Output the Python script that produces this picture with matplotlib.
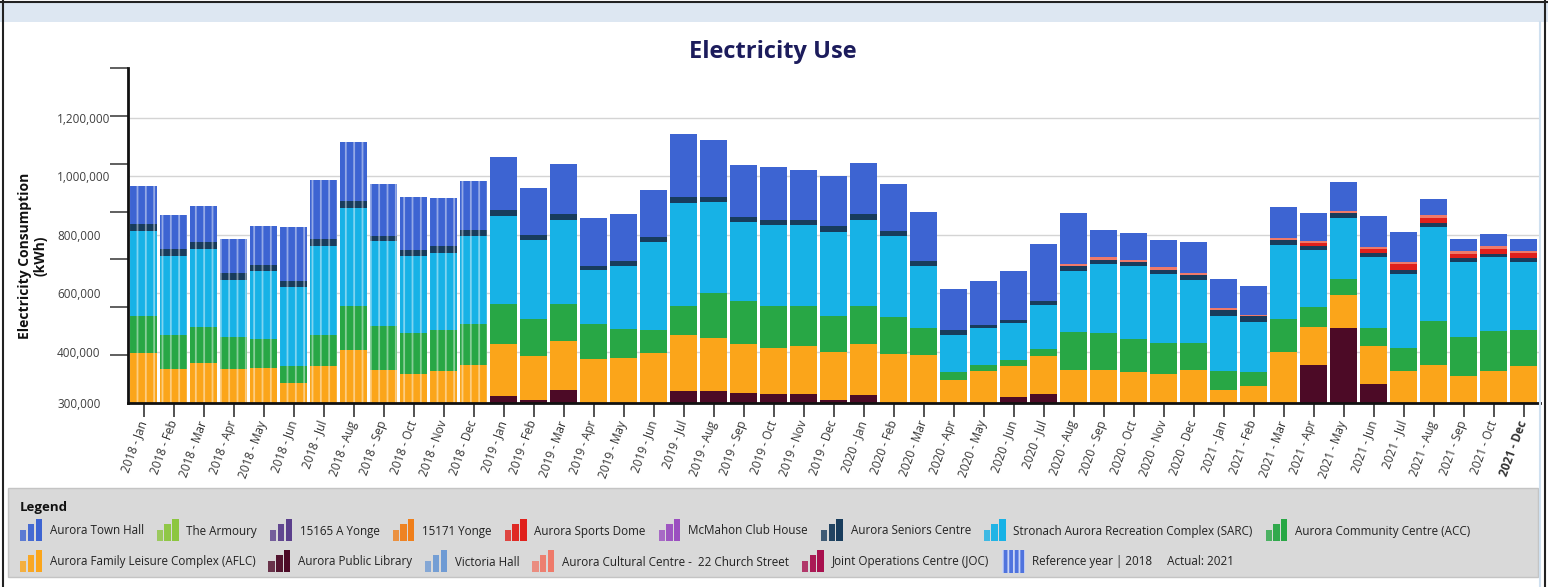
import numpy as np
import matplotlib
matplotlib.use("Agg")
import matplotlib.pyplot as plt
from matplotlib.patches import Patch, Rectangle
from matplotlib.lines import Line2D
from matplotlib.legend_handler import HandlerBase

plt.rcParams['font.family'] = ['Open Sans', 'DejaVu Sans']
plt.rcParams['hatch.linewidth'] = 1.3

# --- categories (the last bar is labelled "2021 - Dec" in the source) ---
mon = ['Jan', 'Feb', 'Mar', 'Apr', 'May', 'Jun', 'Jul', 'Aug', 'Sep', 'Oct', 'Nov', 'Dec']
month_labels = ([f"{y} - {m}" for y in (2018, 2019, 2020) for m in mon]
                + [f"2021 - {m}" for m in mon[:10]] + ["2021 - Dec"])
ref_year = "2018"

# --- stacked values, thousand kWh above the axis base (bottom -> top) ---
library = [0, 0, 0, 0, 0, 0, 0, 0, 0, 0, 0, 0,
           25, 11, 43, 0, 0, 0, 40, 42, 34, 32, 32, 11,
           26, 0, 0, 0, 0, 19, 32, 0, 0, 0, 0, 0,
           0, 0, 0, 129, 256, 65, 0, 0, 0, 0, 0]
aflc = [171, 116, 137, 116, 120, 70, 125, 182, 114, 100, 111, 131,
        177, 151, 168, 151, 154, 171, 194, 180, 168, 156, 164, 163,
        176, 169, 165, 80, 111, 106, 130, 114, 114, 105, 100, 114,
        43, 57, 176, 130, 114, 129, 111, 131, 93, 108, 125]
acc = [128, 117, 122, 109, 100, 58, 108, 148, 148, 139, 139, 140,
       135, 125, 128, 119, 100, 80, 97, 154, 148, 142, 134, 122,
       131, 125, 91, 25, 19, 21, 23, 129, 125, 114, 105, 91,
       68, 48, 112, 68, 55, 63, 77, 148, 134, 137, 125]
sarc = [288, 270, 268, 194, 230, 270, 305, 338, 291, 265, 262, 301,
        302, 270, 286, 183, 213, 298, 354, 310, 268, 278, 279, 287,
        294, 276, 213, 129, 125, 128, 149, 207, 237, 248, 237, 216,
        187, 172, 251, 195, 208, 243, 254, 323, 256, 254, 232]
seniors = [25, 23, 23, 25, 21, 19, 22, 21, 19, 19, 23, 21,
           19, 17, 22, 16, 17, 18, 19, 17, 18, 16, 15, 21,
           19, 17, 15, 17, 11, 11, 16, 17, 14, 14, 14, 17,
           21, 19, 19, 14, 15, 14, 14, 14, 12, 11, 14]
sports_dome = [0] * 39 + [12, 0, 14, 19, 17, 15, 16, 17]
cultural = [0] * 31 + [8, 9, 9, 9, 6, 6, 6, 6, 6, 8, 6, 7, 8, 8, 9, 6]
town_hall = [131, 117, 125, 116, 133, 186, 203, 203, 178, 180, 165, 165,
             182, 160, 171, 163, 162, 162, 214, 197, 176, 181, 171, 171,
             174, 160, 168, 139, 150, 165, 195, 174, 93, 91, 91, 105,
             99, 99, 105, 94, 99, 106, 103, 57, 43, 42, 43]

Y_BASE = 225000
Y_TOP = 1370000

colors = {
    'Aurora Town Hall': '#3d64d2',
    'The Armoury': '#8cc63f',
    '15165 A Yonge': '#5b3f8c',
    '15171 Yonge': '#f07f1a',
    'Aurora Sports Dome': '#e0201b',
    'McMahon Club House': '#9b4fc0',
    'Aurora Seniors Centre': '#183c5c',
    'Stronach Aurora Recreation Complex (SARC)': '#17b2e6',
    'Aurora Community Centre (ACC)': '#28a745',
    'Aurora Family Leisure Complex (AFLC)': '#fba51a',
    'Aurora Public Library': '#4c0a26',
    'Victoria Hall': '#6f9bd4',
    'Aurora Cultural Centre -  22 Church Street': '#ef7a6a',
    'Joint Operations Centre (JOC)': '#a8104e',
}

stack = [
    ('Aurora Public Library', library),
    ('Aurora Family Leisure Complex (AFLC)', aflc),
    ('Aurora Community Centre (ACC)', acc),
    ('Stronach Aurora Recreation Complex (SARC)', sarc),
    ('Aurora Seniors Centre', seniors),
    ('Aurora Sports Dome', sports_dome),
    ('Aurora Cultural Centre -  22 Church Street', cultural),
    ('Aurora Town Hall', town_hall),
]

W, H = 1548, 587
fig = plt.figure(figsize=(W / 100, H / 100), dpi=100)

# page furniture: top band, frame, legend panel
fig.patches.append(Rectangle((0, 1 - 22 / H), 1, 20 / H, transform=fig.transFigure,
                             facecolor='#dde7f2', edgecolor='none', zorder=0))
fig.patches.append(Rectangle((8 / W, 10 / H), 1530 / W, 89 / H, transform=fig.transFigure,
                             facecolor='#d9d9d9', edgecolor='#c4c4c4', lw=1, zorder=0))
fig.lines.append(Line2D([0, 1], [1 - 1.5 / H] * 2, transform=fig.transFigure, color='#222', lw=1.5))
fig.lines.append(Line2D([3 / W] * 2, [0, 1], transform=fig.transFigure, color='#222', lw=1.5))
fig.lines.append(Line2D([1 - 3 / W] * 2, [0, 1], transform=fig.transFigure, color='#222', lw=1.5))
fig.lines.append(Line2D([1540 / W] * 2, [0, 1 - 22 / H], transform=fig.transFigure, color='#cfe0f0', lw=1.5))

ax = fig.add_axes([128 / W, 184 / H, 1412 / W, 335 / H])

x = np.arange(len(month_labels))
is_ref = np.array([lab.startswith(ref_year) for lab in month_labels])
bottom = np.full(len(x), float(Y_BASE))
for name, vals in stack:
    v = np.array(vals, dtype=float) * 1000
    bars = ax.bar(x, v, 0.9, bottom=bottom, color=colors[name], linewidth=0, zorder=2)
    for b, r in zip(bars, is_ref):
        if r:
            b.set_hatch('||')
            b.set_edgecolor((1, 1, 1, 0.45))
    bottom += v

ax.set_xlim(-0.52, 46.55)
ax.set_ylim(Y_BASE, Y_TOP)

for s in ('top', 'right'):
    ax.spines[s].set_visible(False)
for s in ('left', 'bottom'):
    ax.spines[s].set_linewidth(2)
    ax.spines[s].set_color('#111')

ax.set_xticks(x)
ax.set_xticklabels(month_labels, rotation=70, ha='right', va='center',
                   rotation_mode='anchor', fontsize=8.5, color='#333')
ax.get_xticklabels()[-1].set_fontweight('bold')
ax.tick_params(axis='x', length=10, width=1.2, color='#333', pad=3)

ylabels_vals = [Y_BASE, 400000, 600000, 800000, 1000000, 1200000]
ax.set_yticks(ylabels_vals, ['300,000', '400,000', '600,000', '800,000', '1,000,000', '1,200,000'])
ax.set_yticks(np.linspace(Y_BASE, Y_TOP, 8), minor=True)
ax.tick_params(axis='y', which='major', length=0, pad=51, labelsize=8.5, labelcolor='#404040')
ax.tick_params(axis='y', which='minor', length=13, width=1.2, color='#444')
for t in ax.get_yticklabels():
    t.set_horizontalalignment('left')
ax.grid(axis='y', which='major', color='#d4d4d4', lw=1, zorder=0)
ax.set_axisbelow(True)

ax.set_ylabel('Electricity Consumption\n(kWh)', fontsize=10, fontweight='bold', color='#111',
              linespacing=1.1)
ax.yaxis.set_label_coords(-0.057, 0.44)

fig.text(773 / W, 1 - 52 / H, 'Electricity Use', ha='center', va='center',
         fontsize=17, fontweight='bold', color='#1c1c5c')


class MiniBars(HandlerBase):
    def create_artists(self, legend, orig_handle, xdescent, ydescent, width, height, fontsize, trans):
        fc = orig_handle.get_facecolor()
        full = 2.7 * height
        y0 = -ydescent + 0.5 * height - 0.5 * full
        if orig_handle.get_hatch():
            r = Rectangle((-xdescent, y0 - 0.1 * height), width, full + 0.2 * height,
                          facecolor=fc, edgecolor=(1, 1, 1, 0.7), hatch='|||',
                          linewidth=0, transform=trans)
            return [r]
        arts = []
        bw = width / 3 - 1
        for k, (frac, a) in enumerate(((0.5, 0.8), (0.78, 0.95), (1.0, 1.0))):
            arts.append(Rectangle((-xdescent + k * width / 3, y0), bw, full * frac,
                                  facecolor=fc, alpha=a, linewidth=0, transform=trans))
        return arts


row1 = ['Aurora Town Hall', 'The Armoury', '15165 A Yonge', '15171 Yonge', 'Aurora Sports Dome',
        'McMahon Club House', 'Aurora Seniors Centre', 'Stronach Aurora Recreation Complex (SARC)',
        'Aurora Community Centre (ACC)']
row2 = ['Aurora Family Leisure Complex (AFLC)', 'Aurora Public Library', 'Victoria Hall',
        'Aurora Cultural Centre -  22 Church Street', 'Joint Operations Centre (JOC)']

fig.text(20 / W, 1 - 507 / H, 'Legend', ha='left', va='center', fontsize=9.5,
         fontweight='bold', color='#111')

leg_kw = dict(frameon=False, borderpad=0, borderaxespad=0, fontsize=8.4, handlelength=2.0,
              handletextpad=0.55, columnspacing=1.1, loc='center left',
              handler_map={Patch: MiniBars()}, labelcolor='#222')
h1 = [Patch(facecolor=colors[n], label=n) for n in row1]
fig.legend(handles=h1, ncol=len(h1), bbox_to_anchor=(20 / W, 1 - 531 / H), **leg_kw)
h2 = [Patch(facecolor=colors[n], label=n) for n in row2]
h2.append(Patch(facecolor='#4f73de', hatch='|||', label='Reference year | 2018     Actual: 2021'))
fig.legend(handles=h2, ncol=len(h2), bbox_to_anchor=(20 / W, 1 - 562 / H), **leg_kw)

fig.savefig('out.png', dpi=100)
